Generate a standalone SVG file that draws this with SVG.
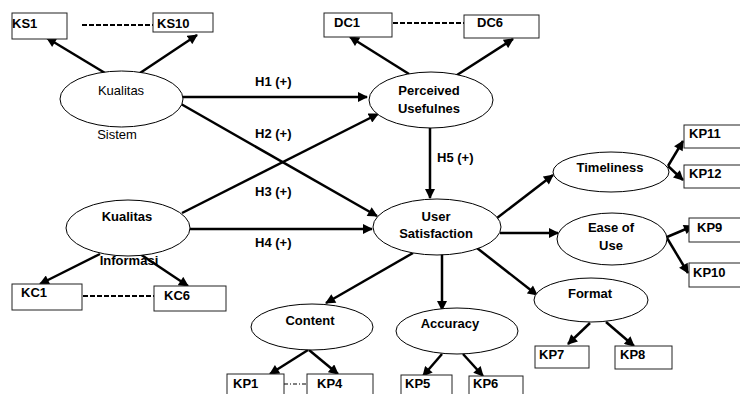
<svg xmlns="http://www.w3.org/2000/svg" width="740" height="394" viewBox="0 0 740 394">
<style>
.bg{fill:#fff}
.box{fill:#fff;stroke:#222;stroke-width:1}
.ell{fill:#fff;stroke:#000;stroke-width:1}
.t{font-family:"Liberation Sans",Arial,sans-serif;font-size:13px;font-weight:bold;fill:#000}
.r{font-weight:normal}
.c{text-anchor:middle}
.arr{stroke:#000;stroke-width:2.5;fill:none;marker-end:url(#ah)}
.dash{stroke:#000;stroke-width:1.8;stroke-dasharray:5,2;fill:none}
.dd{stroke:#000;stroke-width:1.2;stroke-dasharray:4,2,1,2;fill:none}
</style>
<defs>
<marker id="ah" viewBox="0 0 10 10" refX="9" refY="5" markerWidth="11" markerHeight="10" markerUnits="userSpaceOnUse" orient="auto">
<path d="M0,0 L10,5 L0,10 z" fill="#000"/>
</marker>
</defs>
<rect class="bg" x="0" y="0" width="740" height="394"/>

<g id="connectors">
<line class="arr" x1="105" y1="73" x2="47" y2="38"/>
<line class="arr" x1="140" y1="73" x2="197" y2="35"/>
<line class="arr" x1="409" y1="74" x2="350" y2="37"/>
<line class="arr" x1="457" y1="75" x2="513" y2="39"/>
<line class="arr" x1="183" y1="97" x2="367" y2="97"/>
<line class="arr" x1="181" y1="104" x2="377" y2="216"/>
<line class="arr" x1="182" y1="213" x2="378" y2="114"/>
<line class="arr" x1="190" y1="229" x2="372" y2="229"/>
<line class="arr" x1="430" y1="128" x2="430" y2="198"/>
<line class="arr" x1="497" y1="218" x2="553" y2="175"/>
<line class="arr" x1="500" y1="233" x2="558" y2="233"/>
<line class="arr" x1="477" y1="248" x2="537" y2="295"/>
<line class="arr" x1="413" y1="253" x2="326" y2="303"/>
<line class="arr" x1="442" y1="253" x2="442" y2="310"/>
<line class="arr" x1="668" y1="166" x2="683" y2="141"/>
<line class="arr" x1="668" y1="166" x2="683" y2="180"/>
<line class="arr" x1="667" y1="237" x2="693" y2="226"/>
<line class="arr" x1="667" y1="238" x2="688" y2="273"/>
<line class="arr" x1="590" y1="323" x2="568" y2="344"/>
<line class="arr" x1="606" y1="322" x2="634" y2="346"/>
<line class="arr" x1="308" y1="350" x2="270" y2="374"/>
<line class="arr" x1="309" y1="350" x2="338" y2="374"/>
<line class="arr" x1="442" y1="354" x2="423" y2="376"/>
<line class="arr" x1="463" y1="354" x2="483" y2="376"/>
<line class="arr" x1="100" y1="254" x2="40" y2="284"/>
<line class="arr" x1="140" y1="254" x2="188" y2="286"/>
<line class="dash" x1="82" y1="25" x2="153" y2="25"/>
<line class="dash" x1="393" y1="23" x2="464" y2="23"/>
<line class="dash" x1="83" y1="296" x2="154" y2="296"/>
<line class="dd" x1="284" y1="384" x2="307" y2="384"/>
</g>

<g id="labels">
<text class="t" x="255" y="86">H1 (+)</text>
<text class="t" x="255" y="138">H2 (+)</text>
<text class="t" x="255" y="196">H3 (+)</text>
<text class="t" x="255" y="247">H4 (+)</text>
<text class="t" x="437" y="162">H5 (+)</text>
</g>

<g id="kualitas-sistem">
<ellipse class="ell" cx="121.5" cy="99" rx="61.5" ry="28"/>
<text class="t r c" x="121" y="95">Kualitas</text>
<text class="t r c" x="117" y="139">Sistem</text>
</g>
<g id="perceived-usefulnes">
<ellipse class="ell" cx="431" cy="100" rx="62" ry="28"/>
<text class="t c" x="429" y="95">Perceived</text>
<text class="t c" x="429" y="113">Usefulnes</text>
</g>
<g id="user-satisfaction">
<ellipse class="ell" cx="437" cy="227" rx="64" ry="28"/>
<text class="t c" x="436" y="221">User</text>
<text class="t c" x="436" y="238">Satisfaction</text>
</g>
<g id="kualitas-informasi">
<ellipse class="ell" cx="128" cy="228" rx="62" ry="28"/>
<text class="t c" x="127" y="221">Kualitas</text>
<text class="t c" x="129" y="265">Informasi</text>
</g>
<g id="timeliness">
<ellipse class="ell" cx="611" cy="172" rx="58" ry="20"/>
<text class="t c" x="610" y="172">Timeliness</text>
</g>
<g id="ease-of-use">
<ellipse class="ell" cx="612" cy="239" rx="55" ry="26"/>
<text class="t c" x="611" y="232">Ease of</text>
<text class="t c" x="611" y="250">Use</text>
</g>
<g id="format">
<ellipse class="ell" cx="591" cy="300" rx="57" ry="22"/>
<text class="t c" x="590" y="298">Format</text>
</g>
<g id="content">
<ellipse class="ell" cx="312" cy="327" rx="61" ry="23"/>
<text class="t c" x="310" y="325">Content</text>
</g>
<g id="accuracy">
<ellipse class="ell" cx="457" cy="331" rx="61" ry="23"/>
<text class="t c" x="450" y="328">Accuracy</text>
</g>

<g id="KS1"><rect class="box" x="12" y="13" width="55" height="26"/><text class="t" x="12" y="28">KS1</text></g>
<g id="KS10"><rect class="box" x="153" y="13" width="60" height="19"/><text class="t" x="157" y="28">KS10</text></g>
<g id="DC1"><rect class="box" x="324" y="13" width="68" height="24"/><text class="t" x="334" y="27">DC1</text></g>
<g id="DC6"><rect class="box" x="464" y="15" width="75" height="23"/><text class="t" x="477" y="27">DC6</text></g>
<g id="KC1"><rect class="box" x="12" y="284" width="70" height="26"/><text class="t" x="21" y="297">KC1</text></g>
<g id="KC6"><rect class="box" x="154" y="286" width="72" height="25"/><text class="t" x="164" y="300">KC6</text></g>
<g id="KP11"><rect class="box" x="684" y="125" width="62" height="23"/><text class="t" x="689" y="138">KP11</text></g>
<g id="KP12"><rect class="box" x="684" y="165" width="62" height="23"/><text class="t" x="689" y="178">KP12</text></g>
<g id="KP9"><rect class="box" x="689" y="218" width="57" height="24"/><text class="t" x="697" y="232">KP9</text></g>
<g id="KP10"><rect class="box" x="689" y="263" width="57" height="24"/><text class="t" x="693" y="277">KP10</text></g>
<g id="KP7"><rect class="box" x="535" y="346" width="54" height="22"/><text class="t" x="539" y="359">KP7</text></g>
<g id="KP8"><rect class="box" x="615" y="346" width="57" height="23"/><text class="t" x="620" y="359">KP8</text></g>
<g id="KP1"><rect class="box" x="227" y="374" width="57" height="25"/><text class="t" x="233" y="388">KP1</text></g>
<g id="KP4"><rect class="box" x="307" y="374" width="66" height="25"/><text class="t" x="317" y="388">KP4</text></g>
<g id="KP5"><rect class="box" x="401" y="375" width="51" height="25"/><text class="t" x="405" y="388">KP5</text></g>
<g id="KP6"><rect class="box" x="469" y="376" width="54" height="25"/><text class="t" x="473" y="388">KP6</text></g>
</svg>
